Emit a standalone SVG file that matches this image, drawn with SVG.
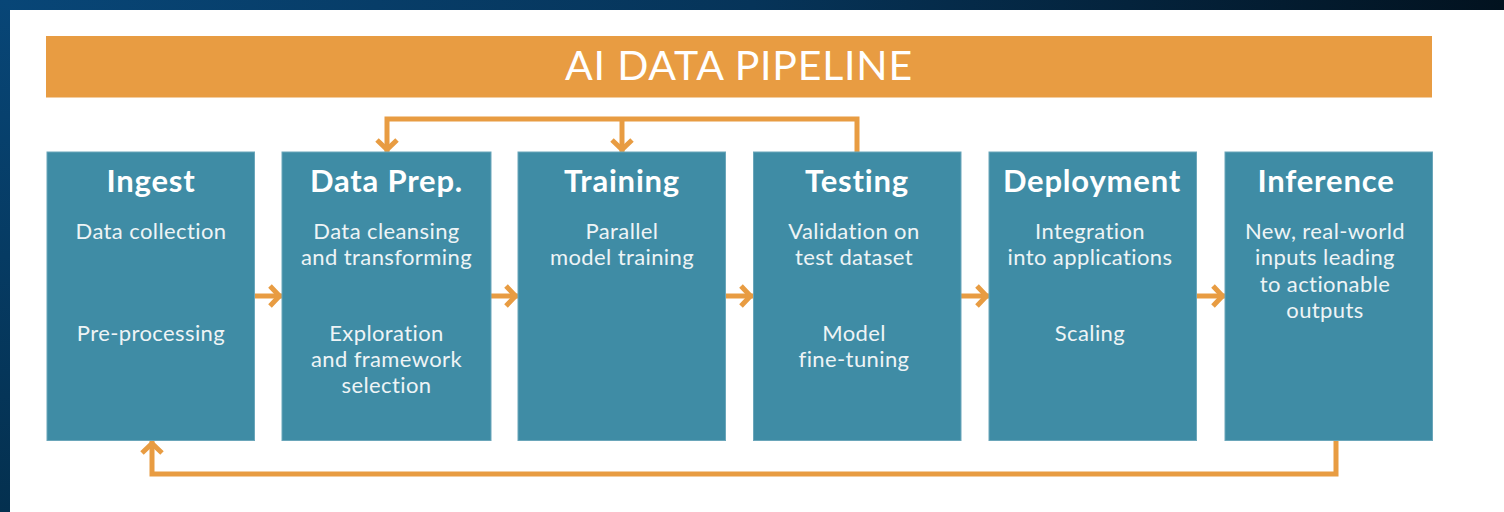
<svg xmlns="http://www.w3.org/2000/svg" width="1504" height="512" viewBox="0 0 1504 512">
  <defs>
    <linearGradient id="bg" x1="0" y1="0" x2="1" y2="0">
      <stop offset="0" stop-color="#084677"/>
      <stop offset="0.5" stop-color="#063459"/>
      <stop offset="1" stop-color="#02121f"/>
    </linearGradient>
    <linearGradient id="bgl" x1="0" y1="0" x2="0" y2="1">
      <stop offset="0" stop-color="#084677"/>
      <stop offset="1" stop-color="#04304f"/>
    </linearGradient>
    <marker id="chev" markerUnits="userSpaceOnUse" viewBox="-20 -15 25 30" markerWidth="25" markerHeight="30" refX="0" refY="0" orient="auto">
      <path d="M-12,-10 L-2.5,0 L-12,10" fill="none" stroke="#e89c42" stroke-width="5" stroke-linejoin="miter" stroke-miterlimit="10"/>
    </marker>
    <style>
      .box { fill: #3f8ca5; stroke: #6aa6ba; stroke-width: 1; }
      .ttl { font-family: Lato, "Liberation Sans", sans-serif; font-weight: 700; font-size: 31px; letter-spacing: 0.8px; fill: #ffffff; text-anchor: middle; }
      .txt { font-family: Lato, "Liberation Sans", sans-serif; font-weight: 400; font-size: 22px; letter-spacing: 0.4px; fill: #eef4f6; text-anchor: middle; }
      .con { fill: none; stroke: #e89c42; stroke-width: 5; stroke-linejoin: miter; }
    </style>
  </defs>

  <rect x="0" y="0" width="1504" height="512" fill="url(#bg)"/>
  <rect x="0" y="0" width="10" height="512" fill="url(#bgl)"/>
  <rect x="10" y="10" width="1494" height="502" fill="#ffffff"/>

  <g id="header">
    <rect x="46" y="36" width="1386" height="61.5" fill="#e89c42"/>
    <text x="739" y="80" font-family="Lato, 'Liberation Sans', sans-serif" font-size="41" letter-spacing="0.8" fill="#ffffff" text-anchor="middle">AI DATA PIPELINE</text>
  </g>

  <g id="connectors">
    <line class="con" x1="254" y1="296" x2="282" y2="296" marker-end="url(#chev)"/>
    <line class="con" x1="491" y1="296" x2="518" y2="296" marker-end="url(#chev)"/>
    <line class="con" x1="726" y1="296" x2="753" y2="296" marker-end="url(#chev)"/>
    <line class="con" x1="961" y1="296" x2="989" y2="296" marker-end="url(#chev)"/>
    <line class="con" x1="1197" y1="296" x2="1225" y2="296" marker-end="url(#chev)"/>
    <path class="con" d="M857,152 L857,119 L387,119 L387,152" marker-end="url(#chev)"/>
    <line class="con" x1="622" y1="119" x2="622" y2="152" marker-end="url(#chev)"/>
    <path class="con" d="M1336,441 L1336,474 L152,474 L152,441" marker-end="url(#chev)"/>
  </g>

  <g id="ingest">
    <rect class="box" x="47" y="152" width="207.5" height="288.5"/>
    <text class="ttl" x="151" y="192">Ingest</text>
    <text class="txt" x="151" y="239">Data collection</text>
    <text class="txt" x="151" y="341">Pre-processing</text>
  </g>

  <g id="dataprep">
    <rect class="box" x="282" y="152" width="209" height="288.5"/>
    <text class="ttl" x="386.5" y="192">Data Prep.</text>
    <text class="txt" x="386.5" y="239">Data cleansing</text>
    <text class="txt" x="386.5" y="265">and transforming</text>
    <text class="txt" x="386.5" y="341">Exploration</text>
    <text class="txt" x="386.5" y="367">and framework</text>
    <text class="txt" x="386.5" y="393">selection</text>
  </g>

  <g id="training">
    <rect class="box" x="518" y="152" width="207.5" height="288.5"/>
    <text class="ttl" x="622" y="192">Training</text>
    <text class="txt" x="622" y="239">Parallel</text>
    <text class="txt" x="622" y="265">model training</text>
  </g>

  <g id="testing">
    <rect class="box" x="753.5" y="152" width="207.5" height="288.5"/>
    <text class="ttl" x="857" y="192">Testing</text>
    <text class="txt" x="854" y="239">Validation on</text>
    <text class="txt" x="854" y="265">test dataset</text>
    <text class="txt" x="854" y="341">Model</text>
    <text class="txt" x="854" y="367">fine-tuning</text>
  </g>

  <g id="deployment">
    <rect class="box" x="989" y="152" width="207.5" height="288.5"/>
    <text class="ttl" x="1092" y="192">Deployment</text>
    <text class="txt" x="1090" y="239">Integration</text>
    <text class="txt" x="1090" y="265">into applications</text>
    <text class="txt" x="1090" y="341">Scaling</text>
  </g>

  <g id="inference">
    <rect class="box" x="1225" y="152" width="207.5" height="288.5"/>
    <text class="ttl" x="1326" y="192">Inference</text>
    <text class="txt" x="1325" y="239">New, real-world</text>
    <text class="txt" x="1325" y="265">inputs leading</text>
    <text class="txt" x="1325" y="292">to actionable</text>
    <text class="txt" x="1325" y="318">outputs</text>
  </g>
</svg>
